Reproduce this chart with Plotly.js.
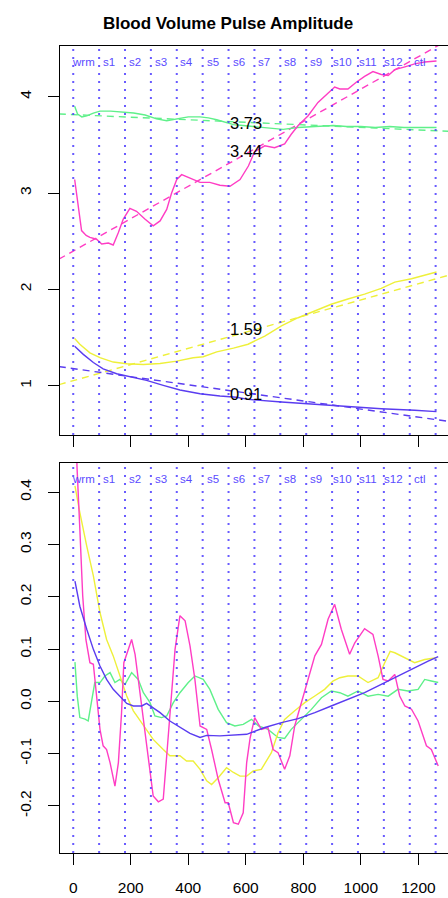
<!DOCTYPE html>
<html><head><meta charset="utf-8">
<script src="https://cdn.plot.ly/plotly-3.0.1.min.js"></script>
<style>html,body{margin:0;padding:0;background:#fff;}#chart{width:448px;height:898px;}</style>
</head><body><div id="chart"></div>
<script>
// ---------- data ----------
const sessionX = [0, 90, 180, 270, 360, 450, 540, 630, 720, 810, 900, 990, 1080, 1170, 1260];
const sessionLabels = ['wrm','s1','s2','s3','s4','s5','s6','s7','s8','s9','s10','s11','s12','ctl'];

const meanX = [600, 600, 600, 600];
const meanValues = [3.73, 3.44, 1.59, 0.91];
const meanLabels = ['3.73', '3.44', '1.59', '0.91'];

// linear fits (endpoints)
const fitX = [-50, 1310];
const pinkFit = [2.313, 4.60];
const greenFit = [3.82, 3.64];
const yellowFit = [1.01, 2.15];
const blueFit = [1.198, 0.627];

// top panel: smoothed amplitude
const pinkTopX = [5, 17, 29, 45, 58, 81, 99, 122, 139, 157, 174, 197, 220, 249, 278, 302, 325, 342, 360, 377, 406, 441, 475, 510, 545, 580, 609, 631, 666, 700, 735, 758, 782, 816, 851, 886, 909, 927, 955, 984, 1013, 1042, 1071, 1095, 1118, 1153, 1187, 1222, 1263];
const pinkTopY = [3.14, 2.90, 2.61, 2.56, 2.54, 2.52, 2.47, 2.48, 2.46, 2.59, 2.73, 2.84, 2.81, 2.73, 2.66, 2.71, 2.83, 3.00, 3.14, 3.19, 3.15, 3.11, 3.11, 3.08, 3.07, 3.14, 3.28, 3.43, 3.49, 3.47, 3.51, 3.61, 3.70, 3.80, 3.94, 4.04, 4.10, 4.08, 4.08, 4.15, 4.21, 4.26, 4.23, 4.22, 4.28, 4.31, 4.34, 4.36, 4.37];

const greenTopX = [5, 15, 30, 47, 70, 93, 130, 170, 210, 250, 290, 325, 360, 400, 441, 470, 499, 530, 557, 590, 630, 680, 730, 780, 830, 880, 905, 950, 1000, 1050, 1100, 1150, 1200, 1263];
const greenTopY = [3.90, 3.82, 3.79, 3.80, 3.83, 3.85, 3.85, 3.84, 3.83, 3.81, 3.77, 3.75, 3.77, 3.79, 3.79, 3.78, 3.76, 3.73, 3.71, 3.70, 3.69, 3.68, 3.66, 3.68, 3.69, 3.70, 3.70, 3.69, 3.69, 3.68, 3.69, 3.68, 3.68, 3.68];

const yellowTopX = [5, 23, 58, 93, 139, 186, 244, 302, 360, 417, 452, 499, 557, 608, 666, 724, 782, 840, 897, 955, 1013, 1071, 1118, 1176, 1222, 1263];
const yellowTopY = [1.49, 1.43, 1.34, 1.29, 1.245, 1.227, 1.22, 1.23, 1.255, 1.29, 1.30, 1.35, 1.39, 1.43, 1.515, 1.62, 1.705, 1.775, 1.845, 1.90, 1.95, 2.01, 2.075, 2.11, 2.145, 2.18];

const blueTopX = [5, 35, 70, 104, 151, 197, 255, 313, 371, 441, 510, 568, 608, 724, 840, 955, 1071, 1187, 1263];
const blueTopY = [1.41, 1.325, 1.24, 1.175, 1.124, 1.09, 1.055, 1.003, 0.955, 0.916, 0.892, 0.88, 0.857, 0.83, 0.806, 0.78, 0.76, 0.744, 0.73];

// bottom panel: residuals
const pinkBotX = [4, 13, 23, 33, 44, 58, 70, 81, 93, 104, 116, 128, 145, 157, 168, 176, 191, 203, 215, 226, 244, 261, 278, 296, 313, 325, 342, 354, 371, 389, 406, 423, 441, 464, 481, 504, 528, 539, 557, 574, 591, 603, 615, 631, 654, 677, 695, 712, 735, 753, 770, 793, 816, 840, 863, 886, 909, 932, 961, 979, 1013, 1042, 1060, 1077, 1095, 1118, 1135, 1153, 1176, 1199, 1228, 1245, 1269];
const pinkBotY = [0.72, 0.45, 0.329, 0.2015, 0.1185, 0.074, 0.071, 0.011, -0.0535, -0.085, -0.092, -0.117, -0.162, -0.117, -0.0216, 0.074, 0.0995, 0.1185, 0.09, 0.042, -0.0407, -0.117, -0.181, -0.192, -0.187, -0.104, 0.0103, 0.0995, 0.164, 0.154, 0.106, 0.042, -0.047, -0.0535, -0.092, -0.149, -0.194, -0.194, -0.232, -0.235, -0.213, -0.117, -0.07, -0.031, -0.0535, -0.05, -0.092, -0.098, -0.130, -0.104, -0.047, -0.0025, 0.042, 0.087, 0.109, 0.157, 0.1855, 0.138, 0.09, 0.112, 0.139, 0.128, 0.087, 0.042, 0.039, 0.0516, 0.0103, -0.0088, -0.015, -0.0375, -0.085, -0.092, -0.1235];

const greenBotX = [6, 14, 23, 41, 52, 64, 75, 93, 110, 128, 145, 162, 180, 203, 226, 244, 267, 284, 307, 325, 348, 371, 400, 423, 452, 475, 504, 533, 562, 591, 620, 644, 677, 712, 735, 758, 793, 828, 863, 897, 927, 955, 990, 1025, 1060, 1095, 1129, 1164, 1199, 1222, 1245, 1269];
const greenBotY = [0.075, 0.010, -0.031, -0.034, -0.0375, -0.0025, 0.036, 0.036, 0.0486, 0.055, 0.036, 0.042, 0.0325, 0.055, 0.042, 0.0166, -0.0025, -0.028, -0.031, -0.028, -0.0025, 0.0166, 0.036, 0.0486, 0.042, 0.023, -0.0153, -0.0407, -0.047, -0.044, -0.0344, -0.047, -0.0535, -0.069, -0.071, -0.0535, -0.0344, -0.0153, 0.007, 0.02, 0.0166, 0.010, 0.02, 0.010, 0.0134, 0.010, 0.023, 0.02, 0.023, 0.042, 0.039, 0.036];

const yellowBotX = [6, 23, 47, 70, 93, 116, 139, 162, 186, 209, 244, 278, 313, 336, 371, 394, 417, 441, 464, 481, 504, 533, 557, 580, 603, 626, 654, 689, 712, 735, 770, 805, 840, 874, 903, 927, 955, 990, 1025, 1060, 1083, 1102, 1118, 1153, 1187, 1222, 1263];
const yellowBotY = [0.412, 0.361, 0.297, 0.24, 0.17, 0.1185, 0.087, 0.0486, 0.0103, -0.018, -0.047, -0.0727, -0.092, -0.104, -0.104, -0.114, -0.114, -0.130, -0.152, -0.159, -0.146, -0.127, -0.136, -0.143, -0.143, -0.133, -0.13, -0.098, -0.060, -0.0344, -0.018, -0.0025, 0.0103, 0.023, 0.039, 0.0453, 0.0486, 0.0486, 0.036, 0.0453, 0.074, 0.0956, 0.093, 0.0835, 0.074, 0.080, 0.0835];

const blueBotX = [6, 23, 47, 70, 93, 116, 139, 162, 186, 209, 238, 255, 278, 302, 336, 371, 406, 441, 464, 510, 557, 603, 666, 724, 782, 840, 897, 955, 1013, 1071, 1129, 1187, 1234, 1269];
const blueBotY = [0.230, 0.182, 0.138, 0.0995, 0.0677, 0.042, 0.023, 0.0103, -0.0038, -0.0088, -0.0088, -0.0038, -0.012, -0.0216, -0.0375, -0.050, -0.061, -0.069, -0.065, -0.066, -0.065, -0.063, -0.050, -0.0407, -0.033, -0.0216, -0.0088, 0.0038, 0.0166, 0.0325, 0.0486, 0.0644, 0.077, 0.0855];

const xTicks = [0, 200, 400, 600, 800, 1000, 1200];
const yTopTicks = [1, 2, 3, 4];
const yBotTicks = [-0.2, -0.1, 0.0, 0.1, 0.2, 0.3, 0.4];
const yBotTickText = ['-0.2', '-0.1', '0.0', '0.1', '0.2', '0.3', '0.4'];

// ---------- styles ----------
const C = {pink: '#FF3DC4', green: '#5FF08A', yellow: '#EEF03A', blue: '#5A3CF0', grid: '#4F3FFF', lab: '#5A4BFF'};
const FONT = 'Liberation Sans, Arial, Helvetica, sans-serif';
const LW = 1.4;

function solid(x, y, color, xa, ya) {
  return {x, y, type: 'scatter', mode: 'lines', xaxis: xa, yaxis: ya, line: {color, width: LW}, hoverinfo: 'skip'};
}
function dashed(x, y, color) {
  return {x, y, type: 'scatter', mode: 'lines', xaxis: 'x', yaxis: 'y', line: {color, width: LW, dash: '7px,5px'}, hoverinfo: 'skip'};
}

const traces = [
  dashed(fitX, pinkFit, C.pink),
  dashed(fitX, greenFit, C.green),
  dashed(fitX, yellowFit, C.yellow),
  dashed(fitX, blueFit, C.blue),
  solid(greenTopX, greenTopY, C.green, 'x', 'y'),
  solid(yellowTopX, yellowTopY, C.yellow, 'x', 'y'),
  solid(pinkTopX, pinkTopY, C.pink, 'x', 'y'),
  solid(blueTopX, blueTopY, C.blue, 'x', 'y'),
  solid(greenBotX, greenBotY, C.green, 'x2', 'y2'),
  solid(yellowBotX, yellowBotY, C.yellow, 'x2', 'y2'),
  solid(pinkBotX, pinkBotY, C.pink, 'x2', 'y2'),
  solid(blueBotX, blueBotY, C.blue, 'x2', 'y2')
];

const shapes = [];
const annotations = [];
['y', 'y2'].forEach((ya, k) => {
  const xa = k === 0 ? 'x' : 'x2';
  sessionX.forEach(v => shapes.push({type: 'line', xref: xa, yref: ya + ' domain', x0: v, x1: v, y0: 0, y1: 1,
    line: {color: C.grid, width: 2, dash: '2px,6px'}, layer: 'above', opacity: 0.85}));
  sessionLabels.forEach((lab, i) => annotations.push({xref: xa, yref: ya + ' domain', x: sessionX[i], y: 0.96,
    xshift: 10, xanchor: 'center', yanchor: 'middle', text: lab, showarrow: false,
    font: {family: FONT, size: 11.5, color: C.lab}}));
});
meanLabels.forEach((t, i) => annotations.push({xref: 'x', yref: 'y', x: meanX[i], y: meanValues[i], text: t,
  showarrow: false, xanchor: 'center', yanchor: 'middle', font: {family: FONT, size: 16.5, color: '#000'}}));

const common = {showgrid: false, zeroline: false, showline: true, linecolor: '#000', linewidth: 1,
  ticks: 'outside', ticklen: 11, tickwidth: 1, tickcolor: '#000',
  tickfont: {family: FONT, size: 15.5, color: '#000'}};

const layout = {
  width: 448, height: 898,
  margin: {l: 60, r: 0, t: 46, b: 45},
  paper_bgcolor: '#fff', plot_bgcolor: '#fff',
  showlegend: false,
  title: {text: '<b>Blood Volume Pulse Amplitude</b>', x: 0.509, xanchor: 'center', y: 0.974, yanchor: 'middle',
    font: {family: FONT, size: 17, color: '#000'}},
  xaxis: Object.assign({}, common, {domain: [0, 1], range: [-46, 1303], anchor: 'y', mirror: true,
    tickvals: xTicks, showticklabels: false}),
  yaxis: Object.assign({}, common, {domain: [0.518, 1], range: [0.488, 4.526], anchor: 'x',
    tickvals: yTopTicks, tickangle: -90, ticklabelstandoff: 11}),
  xaxis2: Object.assign({}, common, {domain: [0, 1], range: [-46, 1303], anchor: 'y2', mirror: true,
    tickvals: xTicks, ticklabelstandoff: 9}),
  yaxis2: Object.assign({}, common, {domain: [0, 0.4833], range: [-0.29, 0.456], anchor: 'x2',
    tickvals: yBotTicks, ticktext: yBotTickText, tickangle: -90, ticklabelstandoff: 11}),
  shapes, annotations
};

Plotly.newPlot('chart', traces, layout, {staticPlot: true, displayModeBar: false});
</script>
</body></html>
